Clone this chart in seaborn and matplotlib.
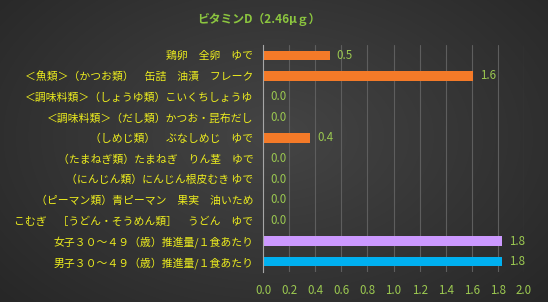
import numpy as np
import pandas as pd
import matplotlib
matplotlib.use("Agg")
import matplotlib.pyplot as plt
import seaborn as sns

title = "ビタミンD（2.46μｇ）"
categories = [
    "鶏卵　全卵　ゆで",
    "＜魚類＞（かつお類）　缶詰　油漬　フレーク",
    "＜調味料類＞（しょうゆ類）こいくちしょうゆ",
    "＜調味料類＞（だし類）かつお・昆布だし",
    "（しめじ類）　ぶなしめじ　ゆで",
    "（たまねぎ類）たまねぎ　りん茎　ゆで",
    "（にんじん類）にんじん根皮むき ゆで",
    "（ピーマン類）青ピーマン　果実　油いため",
    "こむぎ　［うどん・そうめん類］　うどん　ゆで",
    "女子３０～４９（歳）推進量/１食あたり",
    "男子３０～４９（歳）推進量/１食あたり",
]
values = [0.51, 1.61, 0.0, 0.0, 0.36, 0.0, 0.0, 0.0, 0.0, 1.83, 1.83]
bar_colors = ["#F47A28"] * 9 + ["#CC99FF", "#00B0F0"]
xticks = [0.0, 0.2, 0.4, 0.6, 0.8, 1.0, 1.2, 1.4, 1.6, 1.8, 2.0]

sns.set_theme(style="dark")
plt.rcParams["font.family"] = ["Noto Sans CJK JP", "DejaVu Sans"]

W, H = 548, 302
fig = plt.figure(figsize=(W / 100, H / 100), dpi=100)

# background gradient
bg = fig.add_axes([0, 0, 1, 1], zorder=-10)
yy, xx = np.mgrid[0:H, 0:W]
cx, cy = W * 0.5, H * 0.45
r = np.sqrt(((xx - cx) / (W * 0.75)) ** 2 + ((yy - cy) / (H * 0.9)) ** 2)
val = 0.27 - 0.13 * np.clip(r, 0, 1)
img = np.dstack([val, val, val])
bg.imshow(img, aspect="auto", extent=[0, 1, 0, 1])
bg.axis("off")

ax = fig.add_axes([263 / W, 1 - 272 / H, 261 / W, (272 - 45) / H])
ax.set_facecolor("none")

df = pd.DataFrame({"cat": categories, "val": values})
sns.barplot(data=df, x="val", y="cat", hue="cat", palette=bar_colors,
            order=categories, hue_order=categories, orient="h",
            width=0.45, legend=False, ax=ax, saturation=1, edgecolor="none")

ax.set_xlim(0, 2.0)
ax.set_xticks(xticks)
ax.set_xticklabels([f"{t:.1f}" for t in xticks], color="#9BC850", fontsize=8.3)
ax.tick_params(axis="x", length=0, pad=9)
ax.tick_params(axis="y", length=0, pad=7)
for lbl in ax.get_yticklabels():
    lbl.set_color("#EDED1E")
    lbl.set_fontsize(7.8)
ax.set_xlabel("")
ax.set_ylabel("")
ax.grid(axis="x", color="#5E5E5E", linewidth=0.8)
ax.grid(axis="y", visible=False)
ax.set_axisbelow(True)
for s in ["top", "right", "bottom"]:
    ax.spines[s].set_visible(False)
ax.spines["left"].set_color("#A6A6A6")
ax.spines["left"].set_linewidth(0.8)

for i, v in enumerate(values):
    ax.text(v + 0.055, i, f"{v:.1f}", color="#9BC850", fontsize=8.3,
            va="center", ha="left")

fig.text(259 / W, 1 - 19 / H, title, color="#8CC63F", fontsize=8.5,
         ha="center", va="center", fontweight="bold")

fig.savefig("out.png", dpi=100)
